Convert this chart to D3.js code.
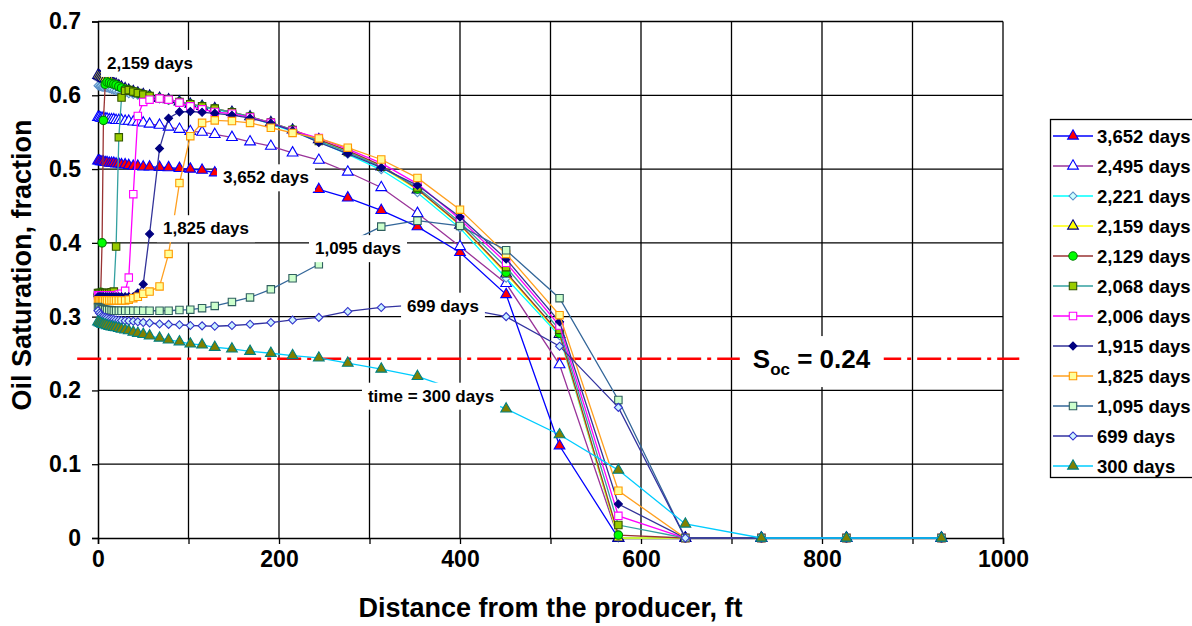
<!DOCTYPE html>
<html>
<head>
<meta charset="utf-8">
<script src="https://cdn.jsdelivr.net/npm/d3@7"></script>
<style>
body { margin: 0; background: #fff; }
text { font-family: "Liberation Sans", Arial, sans-serif; font-weight: bold; fill: #000; }
</style>
</head>
<body>
<div id="chart"></div>
<script>
// distance from the producer, ft (grid block centres shared by all runs)
var distance = [0, 1.5, 3, 4.5, 6, 8, 10, 12.5, 15, 17.5, 20, 23, 26, 30, 34, 39, 44, 50, 57, 68,
  78, 90, 102, 115, 129, 148, 168, 191, 215, 244, 276, 313, 353, 400, 451, 510, 575, 649, 733, 827, 932];

var seriesNames = ["3,652 days", "2,495 days", "2,221 days", "2,159 days", "2,129 days", "2,068 days",
  "2,006 days", "1,915 days", "1,825 days", "1,095 days", "699 days", "300 days"];

var s3652 = [0.511, 0.511, 0.510, 0.510, 0.510, 0.509, 0.509, 0.508, 0.508, 0.508, 0.507, 0.507, 0.506, 0.506, 0.505, 0.504, 0.504, 0.503, 0.503, 0.5025,
  0.502, 0.501, 0.500, 0.4985, 0.495, 0.491, 0.487, 0.482, 0.478, 0.4725, 0.461, 0.444, 0.422, 0.387, 0.330, 0.125, 0, 0, 0, 0, 0];
var s2495 = [0.570, 0.570, 0.569, 0.569, 0.569, 0.568, 0.568, 0.567, 0.567, 0.567, 0.566, 0.566, 0.566, 0.565, 0.565, 0.564, 0.5635, 0.5626, 0.561, 0.5595,
  0.557, 0.554, 0.551, 0.550, 0.547, 0.543, 0.537, 0.531, 0.522, 0.512, 0.496, 0.475, 0.440, 0.395, 0.345, 0.235, 0, 0, 0, 0, 0];
var s2221 = [0.613, 0.612, 0.612, 0.611, 0.611, 0.611, 0.610, 0.609, 0.608, 0.607, 0.606, 0.605, 0.604, 0.603, 0.602, 0.601, 0.600, 0.599, 0.597, 0.595,
  0.593, 0.590, 0.587, 0.584, 0.581, 0.576, 0.570, 0.561, 0.551, 0.537, 0.520, 0.499, 0.468, 0.420, 0.352, 0.274, 0, 0, 0, 0, 0];
var s2159 = [0.627, 0.626, 0.625, 0.624, 0.623, 0.622, 0.621, 0.619, 0.618, 0.616, 0.615, 0.613, 0.611, 0.609, 0.607, 0.605, 0.603, 0.601, 0.599, 0.596,
  0.594, 0.591, 0.588, 0.585, 0.582, 0.577, 0.571, 0.563, 0.553, 0.540, 0.524, 0.503, 0.472, 0.424, 0.358, 0.276, 0, 0, 0, 0, 0];
var s2129 = [0.330, 0.331, 0.333, 0.400, 0.566, 0.615, 0.618, 0.617, 0.616, 0.615, 0.614, 0.612, 0.610, 0.608, 0.607, 0.605, 0.603, 0.601, 0.599, 0.596,
  0.594, 0.591, 0.588, 0.585, 0.582, 0.577, 0.571, 0.563, 0.553, 0.540, 0.525, 0.505, 0.473, 0.425, 0.360, 0.2775, 0.004, 0, 0, 0, 0];
var s2068 = [0.332, 0.332, 0.332, 0.332, 0.332, 0.332, 0.332, 0.332, 0.333, 0.334, 0.395, 0.543, 0.597, 0.606, 0.607, 0.605, 0.603, 0.601, 0.599, 0.596,
  0.594, 0.591, 0.588, 0.585, 0.582, 0.577, 0.571, 0.563, 0.553, 0.538, 0.523, 0.503, 0.475, 0.428, 0.367, 0.282, 0.0176, 0, 0, 0, 0];
var s2006 = [0.329, 0.329, 0.329, 0.329, 0.329, 0.329, 0.329, 0.329, 0.329, 0.329, 0.329, 0.330, 0.331, 0.335, 0.353, 0.466, 0.572, 0.591, 0.594, 0.5955,
  0.594, 0.590, 0.585, 0.581, 0.5774, 0.575, 0.570, 0.5626, 0.552, 0.542, 0.527, 0.508, 0.480, 0.432, 0.373, 0.288, 0.030, 0, 0, 0, 0];
var s1915 = [0.327, 0.327, 0.327, 0.327, 0.327, 0.327, 0.327, 0.327, 0.327, 0.327, 0.327, 0.327, 0.327, 0.327, 0.327, 0.327, 0.332, 0.344, 0.412, 0.528,
  0.569, 0.5775, 0.578, 0.577, 0.5755, 0.573, 0.569, 0.562, 0.552, 0.536, 0.521, 0.502, 0.478, 0.435, 0.378, 0.293, 0.046, 0, 0, 0, 0];
var s1825 = [0.322, 0.322, 0.322, 0.322, 0.322, 0.322, 0.322, 0.322, 0.322, 0.322, 0.322, 0.322, 0.322, 0.322, 0.323, 0.325, 0.327, 0.331, 0.334, 0.341,
  0.385, 0.481, 0.5446, 0.5626, 0.566, 0.565, 0.5626, 0.556, 0.549, 0.5415, 0.529, 0.513, 0.488, 0.445, 0.385, 0.302, 0.064, 0, 0, 0, 0];
var s1095 = [0.313, 0.312, 0.311, 0.3105, 0.310, 0.3095, 0.309, 0.309, 0.3085, 0.308, 0.308, 0.308, 0.308, 0.308, 0.308, 0.308, 0.308, 0.308, 0.308, 0.308,
  0.308, 0.309, 0.3095, 0.3115, 0.3145, 0.320, 0.326, 0.337, 0.352, 0.371, 0.400, 0.422, 0.430, 0.423, 0.390, 0.325, 0.187, 0, 0, 0, 0];
var s699 = [0.308, 0.305, 0.303, 0.301, 0.300, 0.299, 0.298, 0.297, 0.2965, 0.296, 0.2955, 0.295, 0.2948, 0.2945, 0.294, 0.2937, 0.293, 0.292, 0.2914, 0.290,
  0.2895, 0.289, 0.288, 0.2875, 0.287, 0.288, 0.2896, 0.292, 0.2955, 0.299, 0.307, 0.3125, 0.316, 0.312, 0.300, 0.260, 0.177, 0, 0, 0, 0];
var s300 = [0.293, 0.292, 0.291, 0.290, 0.2895, 0.289, 0.288, 0.287, 0.286, 0.2855, 0.285, 0.284, 0.283, 0.282, 0.281, 0.279, 0.2775, 0.276, 0.274, 0.271,
  0.2685, 0.266, 0.263, 0.2617, 0.2585, 0.2563, 0.253, 0.2504, 0.2473, 0.244, 0.237, 0.229, 0.219, 0.199, 0.175, 0.140, 0.092, 0.019, 0, 0, 0];

var seriesValues = [s3652, s2495, s2221, s2159, s2129, s2068, s2006, s1915, s1825, s1095, s699, s300];

var xGridTicks = [0, 100, 200, 300, 400, 500, 600, 700, 800, 900, 1000];
var xTickLabels = [0, 200, 400, 600, 800, 1000];
var yTicks = [0, 0.1, 0.2, 0.3, 0.4, 0.5, 0.6, 0.7];
var socValue = 0.243;

// text callouts: [label, distance, saturation]
var callouts = [
  ["2,159 days", 57.5, 0.644],
  ["3,652 days", 185.6, 0.489],
  ["1,825 days", 119.3, 0.420],
  ["1,095 days", 287.3, 0.393],
  ["699 days", 381.2, 0.315],
  ["time = 300 days", 368, 0.193]
];

// marker / line look for each run
var styles = [
  {line: "#0000FF", fill: "#FF0000", stroke: "#0000FF", shape: "tri"},
  {line: "#993399", fill: "#FFFFFF", stroke: "#0000FF", shape: "tri"},
  {line: "#00FFFF", fill: "#CCFFFF", stroke: "#5B8FC7", shape: "dia"},
  {line: "#FFFF00", fill: "#FFFF00", stroke: "#000080", shape: "tri"},
  {line: "#993333", fill: "#00FF00", stroke: "#008000", shape: "circ"},
  {line: "#33A0A0", fill: "#99CC00", stroke: "#335500", shape: "sq"},
  {line: "#FF00FF", fill: "#FFFFFF", stroke: "#FF00FF", shape: "sq"},
  {line: "#333399", fill: "#000080", stroke: "#000080", shape: "dia"},
  {line: "#FFA020", fill: "#FFFF99", stroke: "#FF9900", shape: "sq"},
  {line: "#336699", fill: "#CCFFCC", stroke: "#2F5F5F", shape: "sq"},
  {line: "#3333A0", fill: "#CCF2FF", stroke: "#3333CC", shape: "dia"},
  {line: "#00CCFF", fill: "#808000", stroke: "#008080", shape: "tri"}
];

var svgWidth = 1192;
var svgHeight = 626;
var margin = {top: 21.5, left: 98};
var width = 905;
var height = 516.5;

var svg = d3.select("#chart")
  .append("svg")
  .attr("width", svgWidth)
  .attr("height", svgHeight);

var xScale = d3.scaleLinear().domain([0, 1000]).range([margin.left, margin.left + width]);
var yScale = d3.scaleLinear().domain([0, 0.7]).range([margin.top + height, margin.top]);

// gridlines
svg.append("g").selectAll("line")
  .data(yTicks.slice(1))
  .enter().append("line")
  .attr("x1", xScale(0)).attr("x2", xScale(1000))
  .attr("y1", d => yScale(d)).attr("y2", d => yScale(d))
  .attr("stroke", "#000").attr("stroke-width", 1.3);

svg.append("g").selectAll("line")
  .data(xGridTicks.slice(1))
  .enter().append("line")
  .attr("x1", d => xScale(d)).attr("x2", d => xScale(d))
  .attr("y1", yScale(0)).attr("y2", yScale(0.7))
  .attr("stroke", "#000").attr("stroke-width", 1.3);

// axes
var leftAxis = d3.axisLeft(yScale)
  .tickValues(yTicks)
  .tickSize(6)
  .tickPadding(11)
  .tickFormat(d => d === 0 ? "0" : d3.format(".1f")(d));

var bottomAxis = d3.axisBottom(xScale)
  .tickValues(xGridTicks)
  .tickSize(6)
  .tickPadding(7)
  .tickFormat(d => xTickLabels.indexOf(d) >= 0 ? d : "");

var gy = svg.append("g")
  .attr("transform", `translate(${margin.left},0)`)
  .call(leftAxis);
var gx = svg.append("g")
  .attr("transform", `translate(0,${margin.top + height})`)
  .call(bottomAxis);

[gx, gy].forEach(function(g) {
  g.select(".domain").attr("stroke", "#000").attr("stroke-width", 1.5);
  g.selectAll(".tick line").attr("stroke", "#000").attr("stroke-width", 1.3);
  g.selectAll(".tick text")
    .style("font-family", '"Liberation Sans", Arial, sans-serif')
    .style("font-weight", "bold")
    .style("font-size", "23px")
    .attr("fill", "#000");
});

// Soc line
svg.append("line")
  .attr("x1", xScale(-23)).attr("x2", xScale(1018))
  .attr("y1", yScale(socValue)).attr("y2", yScale(socValue))
  .attr("stroke", "#FF0000")
  .attr("stroke-width", 2.5)
  .attr("stroke-dasharray", "24,6,4,6");

function markerPath(shape) {
  if (shape === "tri") return d3.symbol().type(d3.symbolTriangle).size(50)();
  if (shape === "circ") return d3.symbol().type(d3.symbolCircle).size(56)();
  if (shape === "sq") return d3.symbol().type(d3.symbolSquare).size(55)();
  return d3.symbol().type(d3.symbolSquare).size(32)();
}

var line = d3.line()
  .x(d => xScale(d[0]))
  .y(d => yScale(d[1]));

seriesValues.forEach(function(vals, i) {
  var st = styles[i];
  var pts = distance.map((x, j) => [x, vals[j]]);
  var g = svg.append("g");
  g.append("path")
    .datum(pts)
    .attr("d", line)
    .attr("fill", "none")
    .attr("stroke", st.line)
    .attr("stroke-width", 1.3);
  g.selectAll("path.mk")
    .data(pts)
    .enter().append("path")
    .attr("class", "mk")
    .attr("d", markerPath(st.shape))
    .attr("transform", d => `translate(${xScale(d[0])},${yScale(d[1])})` + (st.shape === "dia" ? " rotate(45)" : ""))
    .attr("fill", st.fill)
    .attr("stroke", st.stroke)
    .attr("stroke-width", 1.1);
});

// callout labels on white boxes
function addLabel(node, padX, padY) {
  var bb = node.node().getBBox();
  svg.insert("rect", function() { return node.node(); })
    .attr("x", bb.x - padX).attr("y", bb.y - padY)
    .attr("width", bb.width + 2 * padX).attr("height", bb.height + 2 * padY)
    .attr("fill", "#fff");
}

callouts.forEach(function(c) {
  var t = svg.append("text")
    .attr("x", xScale(c[1]))
    .attr("y", yScale(c[2]))
    .attr("dy", "0.36em")
    .attr("text-anchor", "middle")
    .style("font-size", "17px")
    .text(c[0]);
  addLabel(t, 6, 4);
});

var soc = svg.append("text")
  .attr("x", xScale(788.4))
  .attr("y", yScale(socValue))
  .attr("dy", "0.36em")
  .attr("text-anchor", "middle")
  .style("font-size", "26px");
soc.append("tspan").text("S");
soc.append("tspan").attr("dy", 7).style("font-size", "17px").text("oc");
soc.append("tspan").attr("dy", -7).text(" = 0.24");
addLabel(soc, 13, 8);

// axis titles
svg.append("text")
  .attr("transform", `translate(31,265) rotate(-90)`)
  .attr("text-anchor", "middle")
  .style("font-size", "27px")
  .text("Oil Saturation, fraction");

svg.append("text")
  .attr("x", xScale(500))
  .attr("y", 617)
  .attr("text-anchor", "middle")
  .style("font-size", "27px")
  .text("Distance from the producer, ft");

// legend
var legend = svg.append("g");
legend.append("rect")
  .attr("x", 1050.5).attr("y", 119.5)
  .attr("width", 160).attr("height", 358)
  .attr("fill", "#fff")
  .attr("stroke", "#000")
  .attr("stroke-width", 1.3);

seriesNames.forEach(function(name, i) {
  var st = styles[i];
  var ly = 136 + i * 30;
  legend.append("line")
    .attr("x1", 1053).attr("x2", 1093)
    .attr("y1", ly).attr("y2", ly)
    .attr("stroke", st.line).attr("stroke-width", 1.5);
  legend.append("path")
    .attr("d", markerPath(st.shape))
    .attr("transform", `translate(1073,${ly})` + (st.shape === "dia" ? " rotate(45)" : ""))
    .attr("fill", st.fill)
    .attr("stroke", st.stroke)
    .attr("stroke-width", 1.1);
  legend.append("text")
    .attr("x", 1097)
    .attr("y", ly)
    .attr("dy", "0.36em")
    .style("font-size", "18.5px")
    .text(name);
});
</script>
</body>
</html>
